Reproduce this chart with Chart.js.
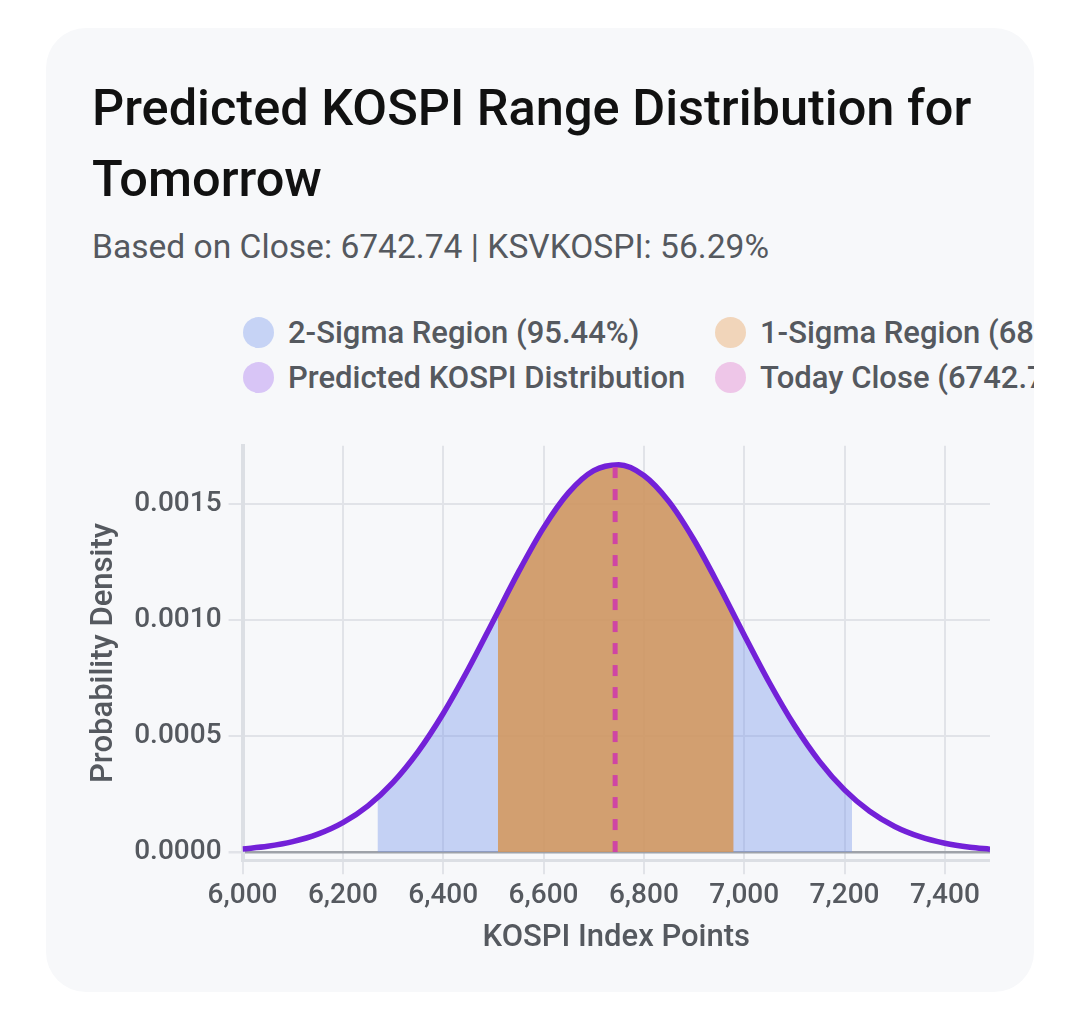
<!DOCTYPE html>
<html>
<head>
<meta charset="utf-8">
<script src="https://cdn.jsdelivr.net/npm/chart.js@4.4.1/dist/chart.umd.min.js"></script>
<style>
  html, body { margin: 0; padding: 0; background: #ffffff; }
  body { width: 1080px; height: 1025px; position: relative; font-family: Roboto, "Noto Sans", sans-serif; }
  .card {
    position: absolute; left: 46px; top: 28px; width: 988px; height: 964px;
    background: #f7f8fa; border-radius: 40px; overflow: hidden;
  }
  .title {
    position: absolute; left: 46px; top: 44px; width: 915px;
    font-size: 50.5px; line-height: 71px; font-weight: 500; color: #111111; margin: 0;
  }
  .subtitle {
    position: absolute; left: 46px; top: 201px; white-space: nowrap;
    font-size: 33.6px; line-height: 36px; color: #55595f;
  }
  .legend {
    position: absolute; left: 197px; top: 282px;
    display: grid; grid-template-columns: 472px 472px; grid-auto-rows: 45px;
  }
  .legend-item { display: flex; align-items: center; white-space: nowrap; font-size: 31px; font-weight: 500; color: #55595f; }
  .legend-dot { width: 31px; height: 31px; border-radius: 50%; margin-right: 14px; flex: none; }
  .chart-box { position: absolute; left: 36px; top: 394px; width: 908px; height: 539px; }
</style>
</head>
<body>
<div class="card">
  <h1 class="title">Predicted KOSPI Range Distribution for Tomorrow</h1>
  <div class="subtitle">Based on Close: 6742.74 | KSVKOSPI: 56.29%</div>
  <div class="legend" id="legend"></div>
  <div class="chart-box"><canvas id="kospiChart"></canvas></div>
</div>
<script>
// values
const xValues = [6000, 6050, 6100, 6150, 6200, 6250, 6300, 6350, 6400, 6450,
  6500, 6550, 6600, 6650, 6700, 6750, 6800, 6850, 6900, 6950,
  7000, 7050, 7100, 7150, 7200, 7250, 7300, 7350, 7400, 7450, 7490];
const densityValues = [0.0000134, 0.0000250, 0.0000449, 0.0000771, 0.0001267, 0.0001993, 0.0003001, 0.0004327, 0.0005969, 0.0007884,
  0.0009966, 0.0012059, 0.0013966, 0.0015481, 0.0016427, 0.0016684, 0.0016220, 0.0015093, 0.0013443, 0.0011461,
  0.0009352, 0.0007305, 0.0005461, 0.0003908, 0.0002677, 0.0001755, 0.0001101, 0.0000662, 0.0000380, 0.0000209, 0.0000126];

const todayClose = 6742.74;
const todayCloseDensity = 0.0016692;

const twoSigmaRange = [6269, 7215];
const twoSigmaEdgeDensity = [0.000234, 0.000237];
const oneSigmaRange = [6509, 6979];
const oneSigmaEdgeDensity = [0.0010346, 0.0010241];

const seriesLabels = ["2-Sigma Region (95.44%)", "1-Sigma Region (68.26%)", "Predicted KOSPI Distribution", "Today Close (6742.74)"];
const legendColors = ["#c6d3f5", "#f1d5ba", "#d8c5f6", "#eec6e8"];

const xTicks = [6000, 6200, 6400, 6600, 6800, 7000, 7200, 7400];
const yTicks = [0, 0.0005, 0.0010, 0.0015];

const curvePoints = xValues.map((x, i) => ({ x: x, y: densityValues[i] }));

function regionPoints(range, edge) {
  const inner = curvePoints.filter(p => p.x > range[0] && p.x < range[1]);
  return [{ x: range[0], y: edge[0] }].concat(inner, [{ x: range[1], y: edge[1] }]);
}

// html legend, two columns like the original
const legendEl = document.getElementById("legend");
seriesLabels.forEach((label, i) => {
  const item = document.createElement("div");
  item.className = "legend-item";
  const dot = document.createElement("span");
  dot.className = "legend-dot";
  dot.style.background = legendColors[i];
  item.appendChild(dot);
  item.appendChild(document.createTextNode(label));
  legendEl.appendChild(item);
});

const tickFont = { family: "Roboto", size: 28, weight: "500" };
const titleFont = { family: "Roboto", size: 31, weight: "500" };

const ctx = document.getElementById("kospiChart");

new Chart(ctx, {
  type: "line",
  data: {
    datasets: [
      {
        label: seriesLabels[3],
        data: [{ x: todayClose, y: 0 }, { x: todayClose, y: todayCloseDensity }],
        borderColor: "#cf45a4",
        borderWidth: 5,
        borderDash: [11, 11],
        pointRadius: 0,
        fill: false,
      },
      {
        label: seriesLabels[2],
        data: curvePoints,
        borderColor: "#7321d8",
        borderWidth: 5.5,
        pointRadius: 0,
        cubicInterpolationMode: "monotone",
        fill: false,
      },
      {
        label: seriesLabels[1],
        data: regionPoints(oneSigmaRange, oneSigmaEdgeDensity),
        backgroundColor: "rgba(212,150,90,0.86)",
        borderWidth: 0,
        pointRadius: 0,
        cubicInterpolationMode: "monotone",
        fill: "origin",
      },
      {
        label: seriesLabels[0],
        data: regionPoints(twoSigmaRange, twoSigmaEdgeDensity),
        backgroundColor: "rgba(120,150,235,0.4)",
        borderWidth: 0,
        pointRadius: 0,
        cubicInterpolationMode: "monotone",
        fill: "origin",
      },
    ],
  },
  options: {
    responsive: true,
    maintainAspectRatio: false,
    animation: false,
    layout: { padding: { top: 10, right: 0 } },
    plugins: {
      legend: { display: false },
      tooltip: { enabled: false },
    },
    scales: {
      x: {
        type: "linear",
        min: 6000,
        max: 7490,
        afterBuildTicks: (axis) => { axis.ticks = xTicks.map(v => ({ value: v })); },
        ticks: {
          font: tickFont,
          color: "#55595f",
          padding: 5,
          maxRotation: 0,
          callback: (v) => v.toLocaleString("en-US"),
        },
        grid: { color: "#e1e3e8", lineWidth: 2, tickLength: 14 },
        border: { color: "#dcdfe4", width: 3 },
        title: { display: true, text: "KOSPI Index Points", font: titleFont, color: "#55595f", padding: { top: 2, bottom: 4 } },
      },
      y: {
        min: -0.000035,
        max: 0.00175,
        afterBuildTicks: (axis) => { axis.ticks = yTicks.map(v => ({ value: v })); },
        ticks: {
          font: tickFont,
          color: "#55595f",
          padding: 7,
          callback: (v) => v.toFixed(4),
        },
        grid: {
          color: (c) => (c.tick && c.tick.value === 0 ? "#9ea2a9" : "#e1e3e8"),
          tickColor: "#e1e3e8",
          lineWidth: (c) => (c.tick && c.tick.value === 0 ? 2.5 : 2),
          tickLength: 14,
        },
        border: { color: "#dcdfe4", width: 4 },
        title: { display: true, text: "Probability Density", font: titleFont, color: "#55595f", padding: 4 },
      },
    },
  },
});
</script>
</body>
</html>
